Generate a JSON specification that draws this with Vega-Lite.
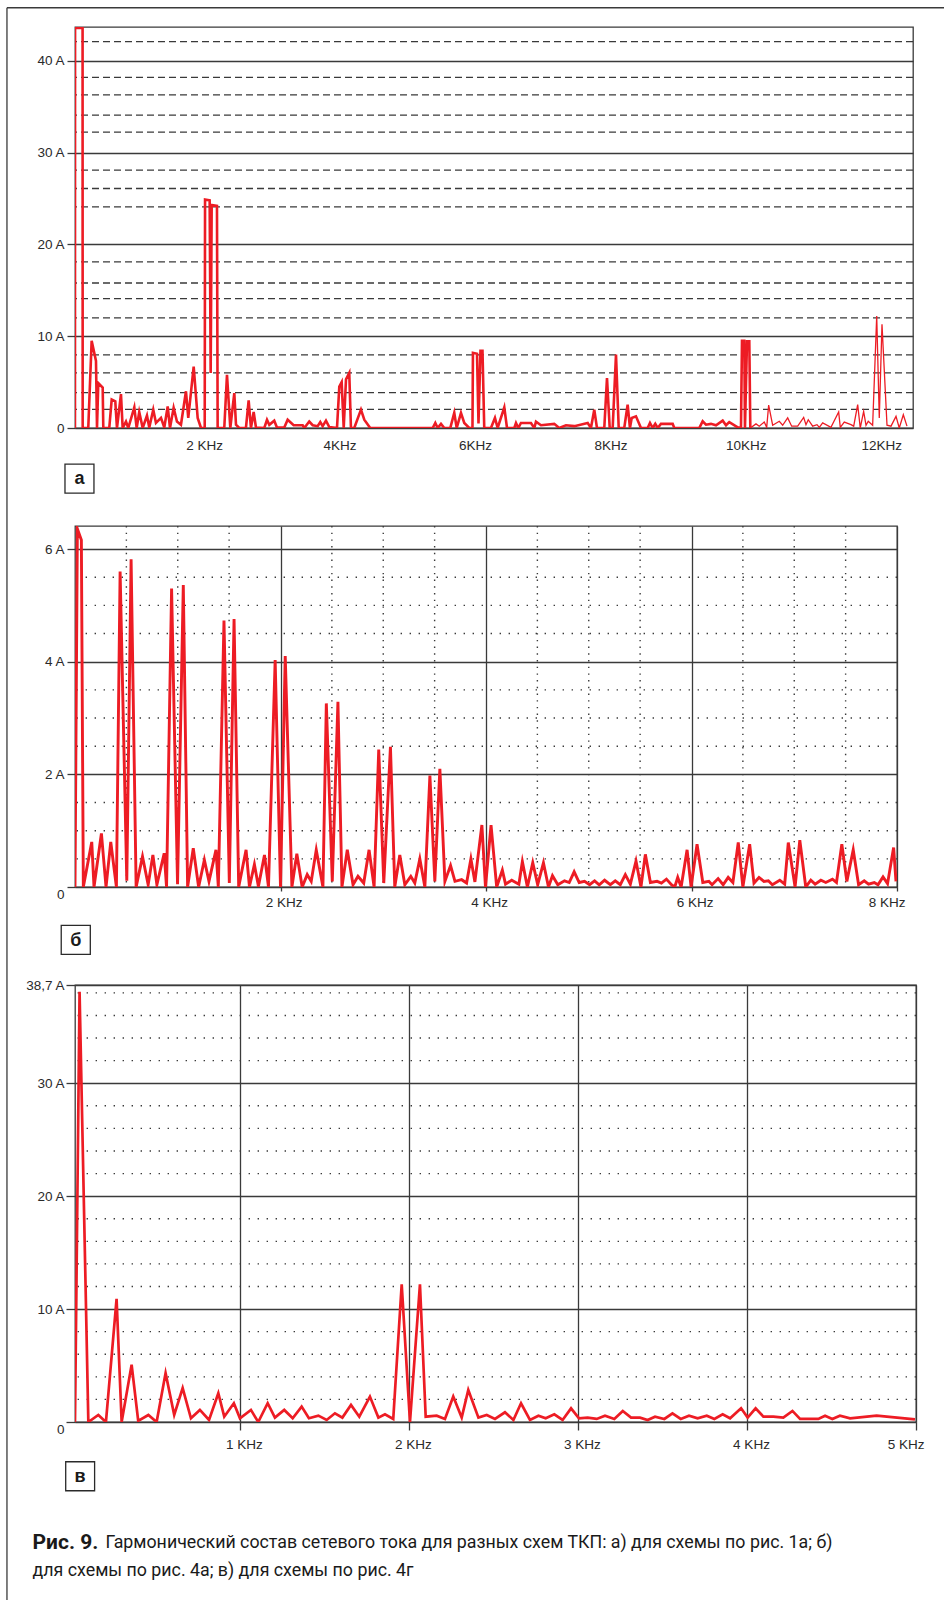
{
  "$schema": "https://vega.github.io/schema/vega-lite/v6.json",
  "padding": {"left": 5, "top": 6, "right": 0, "bottom": 0},
  "background": "white",
  "spacing": 98,
  "bounds": "flush",
  "config": {
    "view": {"stroke": "#3a3a3a", "strokeWidth": 1.3},
    "axis": {"labelFont": "Liberation Sans", "labelFontSize": 13.5, "labelColor": "#2a2a2a", "domain": false, "tickColor": "#3a3a3a", "tickWidth": 1.3, "gridColor": "#3a3a3a", "gridWidth": 1.3, "gridOpacity": 1}
  },
  "datasets": {
    "a": [
      {"f":0.0915,"i":0},{"f":0.093,"i":43.6},{"f":0.204,"i":43.6},{"f":0.2055,"i":0},{"f":0.288,"i":0},{"f":0.338,"i":9.5},{"f":0.402,"i":7.3},{"f":0.417,"i":0},{"f":0.436,"i":4.9},{"f":0.501,"i":4.4},{"f":0.51,"i":0},{"f":0.598,"i":0},{"f":0.634,"i":3.1},{"f":0.687,"i":2.9},{"f":0.712,"i":0},{"f":0.771,"i":3.7},{"f":0.796,"i":0},{"f":0.845,"i":0.7},{"f":0.879,"i":0},{"f":0.968,"i":2.25},{"f":1.003,"i":0},{"f":1.041,"i":1.75},{"f":1.092,"i":0},{"f":1.155,"i":1.35},{"f":1.189,"i":0.05},{"f":1.248,"i":2.0},{"f":1.288,"i":0.55},{"f":1.362,"i":1.1},{"f":1.411,"i":0.05},{"f":1.461,"i":2.35},{"f":1.495,"i":0},{"f":1.549,"i":2.2},{"f":1.598,"i":0.7},{"f":1.657,"i":0.35},{"f":1.731,"i":4.0},{"f":1.765,"i":1.1},{"f":1.845,"i":6.7},{"f":1.904,"i":1.1},{"f":1.953,"i":0},{"f":2.008,"i":0},{"f":2.013,"i":24.9},{"f":2.081,"i":24.8},{"f":2.096,"i":6},{"f":2.111,"i":24.3},{"f":2.189,"i":24.2},{"f":2.199,"i":0},{"f":2.297,"i":0},{"f":2.337,"i":5.8},{"f":2.386,"i":0},{"f":2.445,"i":3.8},{"f":2.47,"i":0.35},{"f":2.518,"i":0},{"f":2.617,"i":0},{"f":2.657,"i":3.0},{"f":2.691,"i":0},{"f":2.731,"i":1.75},{"f":2.765,"i":0.05},{"f":2.888,"i":0},{"f":2.928,"i":0.9},{"f":2.962,"i":0.35},{"f":3.035,"i":0.8},{"f":3.075,"i":0.05},{"f":3.183,"i":0.05},{"f":3.233,"i":0.9},{"f":3.322,"i":0.3},{"f":3.455,"i":0.3},{"f":3.479,"i":0},{"f":3.552,"i":0.7},{"f":3.603,"i":0.3},{"f":3.677,"i":0.2},{"f":3.715,"i":0.65},{"f":3.75,"i":0.2},{"f":3.799,"i":0.8},{"f":3.848,"i":0.1},{"f":3.962,"i":0},{"f":3.996,"i":4.5},{"f":4.031,"i":5.0},{"f":4.061,"i":0},{"f":4.095,"i":5.3},{"f":4.143,"i":6.0},{"f":4.168,"i":0},{"f":4.217,"i":0},{"f":4.316,"i":2.0},{"f":4.365,"i":0.9},{"f":4.453,"i":0},{"f":5.375,"i":0},{"f":5.414,"i":0.55},{"f":5.449,"i":0},{"f":5.498,"i":0.45},{"f":5.547,"i":0},{"f":5.635,"i":0},{"f":5.694,"i":1.65},{"f":5.73,"i":0},{"f":5.793,"i":1.65},{"f":5.842,"i":0.55},{"f":5.916,"i":0},{"f":5.963,"i":0},{"f":5.97,"i":8.2},{"f":6.03,"i":8.1},{"f":6.052,"i":0.5},{"f":6.081,"i":8.4},{"f":6.111,"i":8.4},{"f":6.137,"i":0},{"f":6.236,"i":0},{"f":6.295,"i":1.1},{"f":6.335,"i":0},{"f":6.433,"i":2.25},{"f":6.473,"i":0},{"f":6.581,"i":0},{"f":6.606,"i":0.55},{"f":6.64,"i":0},{"f":6.679,"i":0.55},{"f":6.827,"i":0.55},{"f":6.876,"i":0},{"f":6.901,"i":0.7},{"f":6.975,"i":0.3},{"f":7.171,"i":0.45},{"f":7.245,"i":0},{"f":7.344,"i":0.3},{"f":7.467,"i":0.2},{"f":7.665,"i":0.55},{"f":7.713,"i":0},{"f":7.762,"i":2.0},{"f":7.802,"i":0},{"f":7.91,"i":0},{"f":7.95,"i":5.45},{"f":7.99,"i":0},{"f":8.034,"i":0},{"f":8.083,"i":8.0},{"f":8.123,"i":0},{"f":8.205,"i":0},{"f":8.255,"i":2.55},{"f":8.289,"i":0},{"f":8.315,"i":1.1},{"f":8.378,"i":1.27},{"f":8.452,"i":0},{"f":8.551,"i":0},{"f":8.585,"i":0.55},{"f":8.625,"i":0},{"f":8.663,"i":0.45},{"f":8.699,"i":0},{"f":8.747,"i":0.45},{"f":8.92,"i":0.45},{"f":8.944,"i":0},{"f":9.313,"i":0},{"f":9.363,"i":0.73},{"f":9.412,"i":0.36},{"f":9.486,"i":0.45},{"f":9.56,"i":0.3},{"f":9.659,"i":0.8},{"f":9.708,"i":0.3},{"f":9.756,"i":0.65},{"f":9.881,"i":0.07},{"f":9.929,"i":0},{"f":9.944,"i":9.5},{"f":9.978,"i":9.5},{"f":9.988,"i":0},{"f":10.018,"i":9.45},{"f":10.052,"i":9.45},{"f":10.067,"i":0},
      {"f":10.151,"i":0.45},{"f":10.199,"i":0.2},{"f":10.273,"i":0.65},{"f":10.309,"i":0.07},{"f":10.338,"i":2.5},{"f":10.397,"i":0.3},{"f":10.495,"i":0.73},{"f":10.545,"i":0.3},{"f":10.619,"i":1.1},{"f":10.678,"i":0.2},{"f":10.767,"i":0.2},{"f":10.855,"i":1.16},{"f":10.889,"i":0.36},{"f":10.923,"i":0.9},{"f":10.988,"i":0.2},{"f":11.052,"i":0.36},{"f":11.086,"i":0.07},{"f":11.136,"i":0.55},{"f":11.258,"i":0.07},{"f":11.372,"i":1.75},{"f":11.396,"i":0.07},{"f":11.455,"i":0.65},{"f":11.554,"i":0.36},{"f":11.594,"i":0.2},{"f":11.653,"i":2.55},{"f":11.691,"i":0},{"f":11.741,"i":1.8},{"f":11.776,"i":0.3},{"f":11.809,"i":0.73},{"f":11.874,"i":0.3},{"f":11.934,"i":12.2},{"f":11.972,"i":1.1},{"f":12.012,"i":11.3},{"f":12.086,"i":0.3},{"f":12.145,"i":0.2},{"f":12.219,"i":1.27},{"f":12.267,"i":0},{"f":12.327,"i":1.45},{"f":12.381,"i":0.2}
    ],
    "b": [
      {"f":0,"i":0},{"f":0.023,"i":6.36},{"f":0.062,"i":6.16},{"f":0.081,"i":0},{"f":0.163,"i":0.8},{"f":0.185,"i":0},{"f":0.257,"i":0.95},{"f":0.302,"i":0},{"f":0.348,"i":0.8},{"f":0.403,"i":0},{"f":0.439,"i":5.6},{"f":0.504,"i":0.11},{"f":0.546,"i":5.82},{"f":0.595,"i":0},{"f":0.657,"i":0.54},{"f":0.712,"i":0.04},{"f":0.758,"i":0.57},{"f":0.797,"i":0.04},{"f":0.868,"i":0.6},{"f":0.891,"i":0},{"f":0.94,"i":5.3},{"f":0.998,"i":0.05},{"f":1.054,"i":5.36},{"f":1.096,"i":0},{"f":1.151,"i":0.69},{"f":1.203,"i":0},{"f":1.259,"i":0.48},{"f":1.304,"i":0.1},{"f":1.372,"i":0.66},{"f":1.395,"i":0},{"f":1.45,"i":4.73},{"f":1.502,"i":0.07},{"f":1.548,"i":4.76},{"f":1.593,"i":0},{"f":1.665,"i":0.66},{"f":1.698,"i":0},{"f":1.746,"i":0.4},{"f":1.785,"i":0.01},{"f":1.844,"i":0.57},{"f":1.883,"i":0},{"f":1.948,"i":4.03},{"f":2.0,"i":0},{"f":2.046,"i":4.1},{"f":2.111,"i":0},{"f":2.159,"i":0.59},{"f":2.211,"i":0},{"f":2.26,"i":0.22},{"f":2.299,"i":0.1},{"f":2.348,"i":0.66},{"f":2.413,"i":0},{"f":2.446,"i":3.26},{"f":2.504,"i":0.1},{"f":2.559,"i":3.29},{"f":2.598,"i":0},{"f":2.65,"i":0.66},{"f":2.706,"i":0.04},{"f":2.754,"i":0.19},{"f":2.81,"i":0.07},{"f":2.862,"i":0.66},{"f":2.911,"i":0},{"f":2.956,"i":2.44},{"f":3.005,"i":0.07},{"f":3.07,"i":2.49},{"f":3.112,"i":0},{"f":3.161,"i":0.57},{"f":3.21,"i":0.04},{"f":3.268,"i":0.19},{"f":3.307,"i":0.07},{"f":3.356,"i":0.5},{"f":3.405,"i":0},{"f":3.454,"i":1.98},{"f":3.502,"i":0.1},{"f":3.551,"i":2.1},{"f":3.6,"i":0.1},{"f":3.655,"i":0.38},{"f":3.698,"i":0.1},{"f":3.763,"i":0.13},{"f":3.811,"i":0.07},{"f":3.853,"i":0.5},{"f":3.892,"i":0.09},{"f":3.96,"i":1.1},{"f":3.995,"i":0},{"f":4.049,"i":1.1},{"f":4.104,"i":0},{"f":4.159,"i":0.3},{"f":4.19,"i":0.05},{"f":4.25,"i":0.12},{"f":4.32,"i":0.05},{"f":4.354,"i":0.45},{"f":4.403,"i":0},{"f":4.455,"i":0.43},{"f":4.503,"i":0.04},{"f":4.559,"i":0.43},{"f":4.608,"i":0},{"f":4.647,"i":0.2},{"f":4.699,"i":0.04},{"f":4.764,"i":0.11},{"f":4.81,"i":0.08},{"f":4.858,"i":0.27},{"f":4.907,"i":0.08},{"f":4.959,"i":0.1},{"f":5.008,"i":0.04},{"f":5.057,"i":0.11},{"f":5.102,"i":0.04},{"f":5.154,"i":0.12},{"f":5.21,"i":0.04},{"f":5.258,"i":0.11},{"f":5.307,"i":0.04},{"f":5.356,"i":0.22},{"f":5.405,"i":0.05},{"f":5.46,"i":0.46},{"f":5.508,"i":0},{"f":5.551,"i":0.58},{"f":5.6,"i":0.08},{"f":5.665,"i":0.1},{"f":5.707,"i":0.07},{"f":5.756,"i":0.14},{"f":5.805,"i":0.04},{"f":5.837,"i":0},{"f":5.866,"i":0.17},{"f":5.899,"i":0},{"f":5.957,"i":0.66},{"f":5.996,"i":0},{"f":6.054,"i":0.76},{"f":6.11,"i":0.08},{"f":6.169,"i":0.1},{"f":6.2,"i":0.04},{"f":6.259,"i":0.15},{"f":6.308,"i":0.04},{"f":6.357,"i":0.17},{"f":6.403,"i":0.08},{"f":6.455,"i":0.79},{"f":6.5,"i":0},{"f":6.566,"i":0.76},{"f":6.608,"i":0.07},{"f":6.657,"i":0.17},{"f":6.705,"i":0.1},{"f":6.748,"i":0.11},{"f":6.787,"i":0.04},{"f":6.859,"i":0.12},{"f":6.907,"i":0.05},{"f":6.942,"i":0.79},{"f":7.008,"i":0},{"f":7.054,"i":0.83},{"f":7.112,"i":0},{"f":7.161,"i":0.12},{"f":7.203,"i":0.05},{"f":7.259,"i":0.12},{"f":7.307,"i":0.08},{"f":7.372,"i":0.14},{"f":7.411,"i":0.08},{"f":7.463,"i":0.76},{"f":7.512,"i":0.1},{"f":7.574,"i":0.66},{"f":7.626,"i":0.04},{"f":7.681,"i":0.11},{"f":7.723,"i":0.05},{"f":7.779,"i":0.08},{"f":7.815,"i":0.04},{"f":7.864,"i":0.18},{"f":7.908,"i":0.06},{"f":7.967,"i":0.7},{"f":7.99,"i":0.1}
    ],
    "v": [
      {"f":0.024,"i":0},{"f":0.051,"i":38.1},{"f":0.103,"i":0},{"f":0.162,"i":0.62},{"f":0.207,"i":0},{"f":0.27,"i":10.9},{"f":0.3,"i":0},{"f":0.359,"i":5.07},{"f":0.398,"i":0.1},{"f":0.458,"i":0.62},{"f":0.507,"i":0},{"f":0.56,"i":4.33},{"f":0.611,"i":0.62},{"f":0.661,"i":3.0},{"f":0.71,"i":0.33},{"f":0.763,"i":1.07},{"f":0.817,"i":0.18},{"f":0.872,"i":2.55},{"f":0.907,"i":0.47},{"f":0.964,"i":1.66},{"f":1.0,"i":0.33},{"f":1.065,"i":1.07},{"f":1.108,"i":0},{"f":1.164,"i":1.66},{"f":1.207,"i":0.39},{"f":1.262,"i":1.07},{"f":1.312,"i":0.33},{"f":1.365,"i":1.36},{"f":1.408,"i":0.33},{"f":1.464,"i":0.56},{"f":1.513,"i":0.18},{"f":1.562,"i":0.77},{"f":1.606,"i":0.39},{"f":1.657,"i":1.51},{"f":1.706,"i":0.47},{"f":1.769,"i":2.25},{"f":1.819,"i":0.39},{"f":1.858,"i":0.68},{"f":1.907,"i":0.27},{"f":1.957,"i":12.2},{"f":2.006,"i":0},{"f":2.065,"i":12.2},{"f":2.099,"i":0.47},{"f":2.164,"i":0.56},{"f":2.213,"i":0.27},{"f":2.262,"i":2.25},{"f":2.312,"i":0.39},{"f":2.351,"i":2.84},{"f":2.411,"i":0.39},{"f":2.46,"i":0.62},{"f":2.509,"i":0.27},{"f":2.568,"i":0.86},{"f":2.618,"i":0.18},{"f":2.663,"i":1.66},{"f":2.716,"i":0.18},{"f":2.766,"i":0.56},{"f":2.809,"i":0.33},{"f":2.86,"i":0.68},{"f":2.909,"i":0.18},{"f":2.959,"i":1.21},{"f":3.006,"i":0.33},{"f":3.057,"i":0.39},{"f":3.111,"i":0.27},{"f":3.16,"i":0.56},{"f":3.215,"i":0.27},{"f":3.265,"i":0.98},{"f":3.314,"i":0.39},{"f":3.367,"i":0.39},{"f":3.412,"i":0.18},{"f":3.456,"i":0.47},{"f":3.511,"i":0.27},{"f":3.559,"i":0.77},{"f":3.608,"i":0.27},{"f":3.657,"i":0.56},{"f":3.708,"i":0.33},{"f":3.762,"i":0.56},{"f":3.807,"i":0.27},{"f":3.856,"i":0.68},{"f":3.9,"i":0.33},{"f":3.965,"i":1.21},{"f":4.004,"i":0.39},{"f":4.051,"i":1.21},{"f":4.097,"i":0.47},{"f":4.156,"i":0.47},{"f":4.215,"i":0.39},{"f":4.269,"i":0.98},{"f":4.314,"i":0.27},{"f":4.422,"i":0.27},{"f":4.462,"i":0.56},{"f":4.505,"i":0.27},{"f":4.55,"i":0.56},{"f":4.61,"i":0.33},{"f":4.767,"i":0.56},{"f":4.994,"i":0.24}
    ],
    "a_dash": [{"y":2.04},{"y":3.85},{"y":6.0},{"y":7.96},{"y":12.0},{"y":14.1},{"y":15.8},{"y":18.1},{"y":24.1},{"y":26.1},{"y":28.1},{"y":32.25},{"y":34.1},{"y":36.3},{"y":38.2},{"y":42.1}],
    "b_h": [{"y":0.5},{"y":1},{"y":1.5},{"y":2.5},{"y":3},{"y":3.5},{"y":4.5},{"y":5},{"y":5.5}],
    "b_v": [{"x":0.5},{"x":1},{"x":1.5},{"x":2.5},{"x":3},{"x":3.5},{"x":4.5},{"x":5},{"x":5.5},{"x":6.5},{"x":7},{"x":7.5}],
    "v_h": [{"y":2},{"y":4},{"y":6},{"y":8},{"y":12},{"y":14},{"y":16},{"y":18},{"y":22},{"y":24},{"y":26},{"y":28},{"y":32},{"y":34},{"y":36},{"y":38}]
  },
  "vconcat": [
    {
      "width": 838, "height": 401,
      "encoding": {
        "x": {"type": "quantitative", "title": null, "scale": {"domain": [0.092, 12.47], "nice": false, "zero": false},
          "axis": {"values": [2, 4, 6, 8, 10, 12], "ticks": false, "tickSize": 0, "grid": false, "labelPadding": 10, "labelExpr": "datum.value == 2 ? '2 KHz' : datum.value + 'KHz'"}},
        "y": {"type": "quantitative", "title": null, "scale": {"domain": [0, 43.7], "nice": false, "zero": false},
          "axis": {"values": [0, 10, 20, 30, 40], "grid": true, "tickSize": 8, "labelPadding": 3, "labelExpr": "datum.value == 0 ? '0' : datum.value + ' A'"}}
      },
      "layer": [
        {
          "data": {"name": "a_dash"},
          "mark": {"type": "rule", "color": "#3a3a3a", "strokeWidth": 1.3, "strokeDash": [7, 4]},
          "encoding": {"x": null, "y": {"field": "y"}}
        },
        {
          "data": {"name": "a"},
          "transform": [{"filter": "datum.f <= 10.0675"}],
          "mark": {"type": "line", "color": "#ED1C24", "strokeWidth": 2.6, "strokeJoin": "miter", "strokeMiterLimit": 6, "clip": true},
          "encoding": {"x": {"field": "f"}, "y": {"field": "i"}}
        },
        {
          "data": {"name": "a"},
          "transform": [{"filter": "datum.f >= 10.0665"}],
          "mark": {"type": "line", "color": "#ED1C24", "strokeWidth": 1.3, "strokeJoin": "miter", "strokeMiterLimit": 6, "clip": true},
          "encoding": {"x": {"field": "f"}, "y": {"field": "i"}}
        },
        {
          "data": {"values": [{}]},
          "mark": {"type": "rect", "fillOpacity": 0, "fill": "white", "stroke": "#2a2a2a", "strokeWidth": 1.3},
          "encoding": {"x": {"datum": -0.056}, "x2": {"datum": 0.372}, "y": {"datum": -3.93}, "y2": {"datum": -7.09}}
        },
        {
          "data": {"values": [{}]},
          "mark": {"type": "text", "text": "а", "font": "Liberation Sans", "fontWeight": "bold", "fontSize": 18, "align": "center", "baseline": "middle", "color": "#1a1a1a"},
          "encoding": {"x": {"datum": 0.158}, "y": {"datum": -5.6}}
        },
        {
          "data": {"values": [{}]},
          "mark": {"type": "rule", "color": "#3a3a3a", "strokeWidth": 1.3},
          "encoding": {"x": {"datum": -0.913}, "y": {"datum": 45.8}, "y2": {"datum": -127.8}}
        },
        {
          "data": {"values": [{}]},
          "mark": {"type": "rule", "color": "#3a3a3a", "strokeWidth": 1.3},
          "encoding": {"x": {"datum": -0.913}, "x2": {"datum": 12.928}, "y": {"datum": 45.8}}
        }
      ]
    },
    {
      "width": 822, "height": 361,
      "encoding": {
        "x": {"type": "quantitative", "title": null, "scale": {"domain": [0, 8], "nice": false, "zero": false},
          "axis": {"values": [2, 4, 6, 8], "grid": true, "tickSize": 4, "labelPadding": 4, "labelOffset": 3, "labelFlush": true, "labelFlushOffset": 5, "labelExpr": "datum.value + ' KHz'"}},
        "y": {"type": "quantitative", "title": null, "scale": {"domain": [0, 6.41], "nice": false, "zero": false},
          "axis": {"values": [0, 2, 4, 6], "grid": true, "tickSize": 8, "labelPadding": 3,
            "labelExpr": "datum.value == 0 ? '0' : datum.value + ' A'",
            "labelBaseline": {"condition": {"test": "datum.value == 0", "value": "top"}, "value": "middle"}}}
      },
      "layer": [
        {
          "data": {"name": "b_h"},
          "mark": {"type": "rule", "color": "#3a3a3a", "strokeWidth": 1.4, "strokeDash": [1.4, 7.6]},
          "encoding": {"x": null, "y": {"field": "y"}}
        },
        {
          "data": {"name": "b_v"},
          "mark": {"type": "rule", "color": "#3a3a3a", "strokeWidth": 1.4, "strokeDash": [1.4, 5.3]},
          "encoding": {"x": {"field": "x"}, "y": null}
        },
        {
          "data": {"name": "b"},
          "mark": {"type": "line", "color": "#ED1C24", "strokeWidth": 2.9, "strokeJoin": "miter", "strokeMiterLimit": 6, "clip": true},
          "encoding": {"x": {"field": "f"}, "y": {"field": "i"}}
        },
        {
          "data": {"values": [{}]},
          "mark": {"type": "rect", "fillOpacity": 0, "fill": "white", "stroke": "#2a2a2a", "strokeWidth": 1.3},
          "encoding": {"x": {"datum": -0.134}, "x2": {"datum": 0.149}, "y": {"datum": -0.68}, "y2": {"datum": -1.195}}
        },
        {
          "data": {"values": [{}]},
          "mark": {"type": "text", "text": "б", "font": "Liberation Sans", "fontWeight": "bold", "fontSize": 18, "align": "center", "baseline": "middle", "color": "#1a1a1a"},
          "encoding": {"x": {"datum": 0.008}, "y": {"datum": -0.95}}
        }
      ]
    },
    {
      "width": 841, "height": 437,
      "encoding": {
        "x": {"type": "quantitative", "title": null, "scale": {"domain": [0.024, 5.0], "nice": false, "zero": false},
          "axis": {"values": [1, 2, 3, 4, 5], "grid": true, "tickSize": 8, "labelPadding": 7, "labelOffset": 4, "labelFlush": true, "labelFlushOffset": 4, "labelExpr": "datum.value + ' KHz'"}},
        "y": {"type": "quantitative", "title": null, "scale": {"domain": [0, 38.7], "nice": false, "zero": false},
          "axis": {"values": [0, 10, 20, 30, 38.7], "grid": true, "tickSize": 9, "labelPadding": 2,
            "labelExpr": "datum.value == 0 ? '0' : (datum.value == 38.7 ? '38,7 A' : datum.value + ' A')",
            "labelBaseline": {"condition": {"test": "datum.value == 0", "value": "top"}, "value": "middle"}}}
      },
      "layer": [
        {
          "data": {"name": "v_h"},
          "mark": {"type": "rule", "color": "#3a3a3a", "strokeWidth": 1.4, "strokeDash": [1.4, 7.6]},
          "encoding": {"x": null, "y": {"field": "y"}}
        },
        {
          "data": {"name": "v"},
          "mark": {"type": "line", "color": "#ED1C24", "strokeWidth": 2.7, "strokeJoin": "miter", "strokeMiterLimit": 6, "clip": true},
          "encoding": {"x": {"field": "f"}, "y": {"field": "i"}}
        },
        {
          "data": {"values": [{}]},
          "mark": {"type": "rect", "fillOpacity": 0, "fill": "white", "stroke": "#2a2a2a", "strokeWidth": 1.3},
          "encoding": {"x": {"datum": -0.031}, "x2": {"datum": 0.140}, "y": {"datum": -3.52}, "y2": {"datum": -6.09}}
        },
        {
          "data": {"values": [{}]},
          "mark": {"type": "text", "text": "в", "font": "Liberation Sans", "fontWeight": "bold", "fontSize": 18, "align": "center", "baseline": "middle", "color": "#1a1a1a"},
          "encoding": {"x": {"datum": 0.054}, "y": {"datum": -4.85}}
        },
        {
          "data": {"values": [{}]},
          "mark": {"type": "text", "text": "Рис. 9.", "font": "Roboto", "fontWeight": "bold", "fontSize": 21, "align": "left", "baseline": "middle", "color": "#1a1a1a"},
          "encoding": {"x": {"datum": -0.227}, "y": {"datum": -10.7}}
        },
        {
          "data": {"values": [{}]},
          "mark": {"type": "text", "text": "Гармонический состав сетевого тока для разных схем ТКП: а) для схемы по рис. 1а; б)", "font": "Roboto", "fontSize": 17.8, "align": "left", "baseline": "middle", "color": "#1a1a1a"},
          "encoding": {"x": {"datum": 0.205}, "y": {"datum": -10.7}}
        },
        {
          "data": {"values": [{}]},
          "mark": {"type": "text", "text": "для схемы по рис. 4а; в) для схемы по рис. 4г", "font": "Roboto", "fontSize": 17.8, "align": "left", "baseline": "middle", "color": "#1a1a1a"},
          "encoding": {"x": {"datum": -0.227}, "y": {"datum": -13.19}}
        }
      ]
    }
  ]
}
